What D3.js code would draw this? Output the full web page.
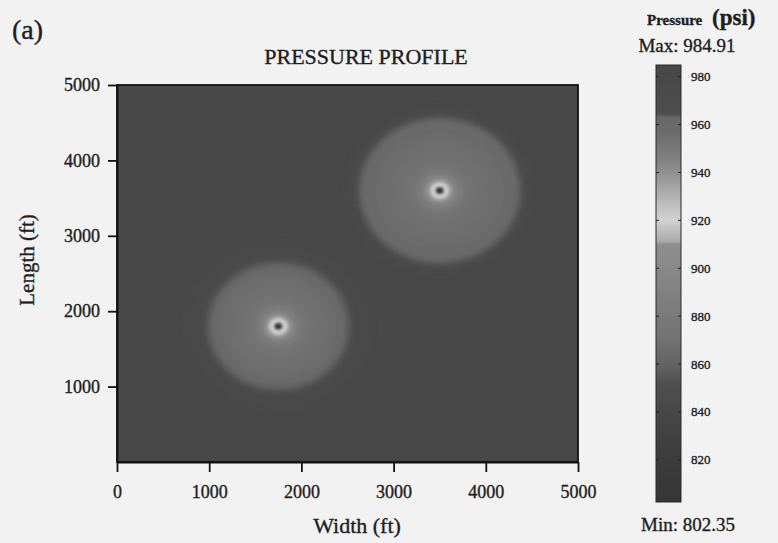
<!DOCTYPE html>
<html>
<head>
<meta charset="utf-8">
<script src="https://cdn.jsdelivr.net/npm/d3@7"></script>
<style>
  html, body { margin: 0; padding: 0; background: #f2f2f2; }
  svg { display: block; }
  text { font-family: "Liberation Serif", "DejaVu Serif", serif; fill: #1e1e1e; stroke: #1e1e1e; stroke-width: 0.35px; }
</style>
</head>
<body>
<svg id="chart" width="778" height="543"></svg>
<script>
// ---- Data -------------------------------------------------------------
const xTicks = [0, 1000, 2000, 3000, 4000, 5000];
const yTicks = [1000, 2000, 3000, 4000, 5000];
const pressureTicks = [820, 840, 860, 880, 900, 920, 940, 960, 980];
const pressureMin = 802.35;
const pressureMax = 984.91;

// Reservoir pressure away from the wells (psi)
const farFieldPressure = 980;

// Well locations (ft)
const wellNames = ["Well A", "Well B"];
const wellX = [3500, 1750];
const wellY = [3600, 1800];

// Drawdown contours are stretched along the length direction
const radiusRatioYX = 1.1;

// Radial pressure profile around each well: ring radius along width (ft) and pressure (psi)
const ringRadius = [1000, 960, 930, 900, 870, 840, 800, 760, 700, 600, 500, 400, 300, 250, 200, 160, 130, 110, 95, 80, 65, 55, 45, 35, 25, 15];
const wellAPressure = [979, 976, 972, 966, 962, 960, 959, 958, 957, 955, 954, 953, 951, 949, 946, 942, 937, 930, 924, 920, 918, 912, 860, 830, 810, pressureMin];
const wellBPressure = [981, 980, 979, 977, 974, 970, 965, 962, 959, 955, 954, 953, 951, 949, 946, 942, 937, 930, 924, 920, 918, 912, 860, 830, 810, pressureMin];
const wellPressure = [wellAPressure, wellBPressure];

// Grey-scale colour map (pressure stop -> grey level)
const cmapPressure = [802.35, 820, 840, 852, 858, 870, 885, 900, 910, 911, 920, 926, 935, 945, 955, 963, 964.5, 975, 984.91];
const cmapGrey = ["#363636", "#3c3c3c", "#474747", "#505050", "#606060", "#727272", "#7e7e7e", "#888888", "#8e8e8e", "#a8a8a8", "#d2d2d2", "#c0c0c0", "#a0a0a0", "#828282", "#6e6e6e", "#676767", "#4e4e4e", "#4a4a4a", "#474747"];

// ---- Scales ------------------------------------------------------------
const svg = d3.select("#chart");
const plot = { left: 117, right: 578, top: 85, bottom: 462 };

const x = d3.scaleLinear().domain([0, 5000]).range([plot.left, plot.right]);
const y = d3.scaleLinear().domain([0, 5000]).range([plot.bottom, plot.top]);
const color = d3.scaleLinear().domain(cmapPressure).range(cmapGrey).interpolate(d3.interpolateRgb).clamp(true);

const defs = svg.append("defs");
defs.append("clipPath").attr("id", "plotClip")
  .append("rect")
  .attr("x", plot.left).attr("y", plot.top)
  .attr("width", plot.right - plot.left).attr("height", plot.bottom - plot.top);
defs.append("filter").attr("id", "softOuter")
  .attr("x", "-20%").attr("y", "-20%").attr("width", "140%").attr("height", "140%")
  .append("feGaussianBlur").attr("stdDeviation", 3.2);
defs.append("filter").attr("id", "softInner")
  .attr("x", "-20%").attr("y", "-20%").attr("width", "140%").attr("height", "140%")
  .append("feGaussianBlur").attr("stdDeviation", 1.1);

// ---- Heat map ---------------------------------------------------------
const field = svg.append("g").attr("clip-path", "url(#plotClip)");
field.append("rect")
  .attr("x", plot.left).attr("y", plot.top)
  .attr("width", plot.right - plot.left).attr("height", plot.bottom - plot.top)
  .attr("fill", color(farFieldPressure));

const outer = field.append("g").attr("filter", "url(#softOuter)");
const inner = field.append("g").attr("filter", "url(#softInner)");
wellNames.forEach((name, i) => {
  const rings = ringRadius.map((r, k) => ({ r, p: wellPressure[i][k] }));
  [[outer, rings.filter(d => d.r >= 300)], [inner, rings.filter(d => d.r < 300)]].forEach(([g, set]) => {
    g.append("g").attr("class", name)
      .selectAll("ellipse").data(set).join("ellipse")
      .attr("cx", x(wellX[i]))
      .attr("cy", y(wellY[i]))
      .attr("rx", d => x(d.r) - x(0))
      .attr("ry", d => y(0) - y(d.r * radiusRatioYX))
      .attr("fill", d => color(d.p));
  });
});

// Frame
svg.append("rect")
  .attr("x", plot.left).attr("y", plot.top)
  .attr("width", plot.right - plot.left).attr("height", plot.bottom - plot.top)
  .attr("fill", "none").attr("stroke", "#111").attr("stroke-width", 1.8);

// ---- Axes -------------------------------------------------------------
const xAxis = svg.append("g").attr("transform", `translate(0,${plot.bottom})`)
  .call(d3.axisBottom(x).tickValues(xTicks).tickSize(10).tickSizeOuter(0).tickPadding(13).tickFormat(d3.format("d")));
const yAxis = svg.append("g").attr("transform", `translate(${plot.left},0)`)
  .call(d3.axisLeft(y).tickValues(yTicks).tickSize(9).tickSizeOuter(0).tickPadding(8).tickFormat(d3.format("d")));
[xAxis, yAxis].forEach(a => {
  a.select(".domain").attr("stroke", "#111").attr("stroke-width", 1.8);
  a.selectAll(".tick line").attr("stroke", "#111").attr("stroke-width", 1.8);
  a.selectAll(".tick text")
    .attr("font-family", "Liberation Serif, serif").attr("font-size", 18).attr("fill", "#1e1e1e");
});

// Titles
svg.append("text").attr("x", 12).attr("y", 39).attr("font-size", 28).text("(a)");
svg.append("text").attr("x", 366).attr("y", 64).attr("text-anchor", "middle")
  .attr("font-size", 22).text("PRESSURE PROFILE");
svg.append("text").attr("x", 357).attr("y", 533).attr("text-anchor", "middle")
  .attr("font-size", 22).text("Width (ft)");
svg.append("text").attr("transform", "translate(34,260) rotate(-90)")
  .attr("text-anchor", "middle").attr("font-size", 21).text("Length (ft)");

// ---- Colour bar -------------------------------------------------------
const bar = { x: 656, w: 25, top: 65, bottom: 502 };
const cy = d3.scaleLinear().domain([pressureMin, pressureMax]).range([bar.bottom, bar.top]);

const grad = defs.append("linearGradient").attr("id", "pressureGrad")
  .attr("x1", 0).attr("y1", 1).attr("x2", 0).attr("y2", 0);
grad.selectAll("stop").data(cmapPressure).join("stop")
  .attr("offset", p => (p - pressureMin) / (pressureMax - pressureMin))
  .attr("stop-color", p => color(p));

svg.append("rect")
  .attr("x", bar.x).attr("y", bar.top)
  .attr("width", bar.w).attr("height", bar.bottom - bar.top)
  .attr("fill", "url(#pressureGrad)")
  .attr("stroke", "#2a2a2a").attr("stroke-width", 1);

const cbTicks = svg.append("g");
cbTicks.selectAll("line.l").data(pressureTicks).join("line").attr("class", "l")
  .attr("x1", bar.x).attr("x2", bar.x + 3)
  .attr("y1", d => cy(d)).attr("y2", d => cy(d))
  .attr("stroke", "#222").attr("stroke-width", 1);
cbTicks.selectAll("line.r").data(pressureTicks).join("line").attr("class", "r")
  .attr("x1", bar.x + bar.w - 3).attr("x2", bar.x + bar.w)
  .attr("y1", d => cy(d)).attr("y2", d => cy(d))
  .attr("stroke", "#222").attr("stroke-width", 1);
cbTicks.selectAll("text").data(pressureTicks).join("text")
  .attr("x", bar.x + bar.w + 10).attr("y", d => cy(d)).attr("dy", "0.35em")
  .attr("font-size", 13).text(d => d);

const head = svg.append("text").attr("y", 25);
head.append("tspan").attr("x", 647).attr("font-size", 15).attr("font-weight", "bold").text("Pressure");
head.append("tspan").attr("x", 712).attr("font-size", 23).attr("font-weight", "bold").text("(psi)");

svg.append("text").attr("x", 687).attr("y", 52).attr("text-anchor", "middle")
  .attr("font-size", 19).text(`Max: ${pressureMax.toFixed(2)}`);
svg.append("text").attr("x", 688).attr("y", 531).attr("text-anchor", "middle")
  .attr("font-size", 19).text(`Min: ${pressureMin.toFixed(2)}`);
</script>
</body>
</html>
